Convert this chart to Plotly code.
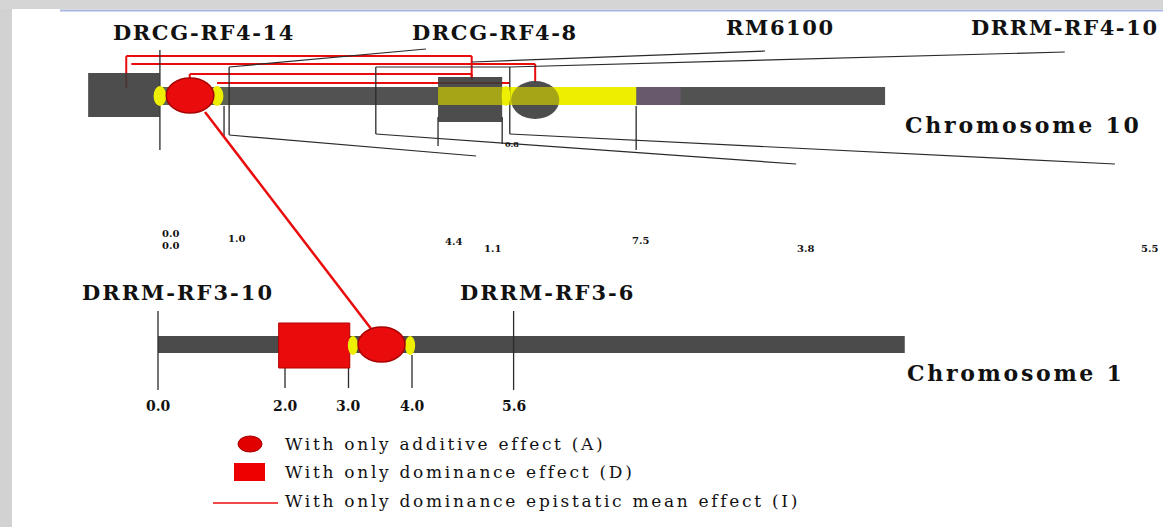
import plotly.graph_objects as go

W, H = 1163, 527
PX_PER_CM = 63.5      # horizontal map scale
ORIGIN_PX = 158       # horizontal pixel of 0 cM

# ---------------- map data (positions in cM) ----------------
# Chromosome 1
chr1_end = 11.76
chr1_marker_names = ["DRRM-RF3-10", "DRRM-RF3-6"]
chr1_marker_pos = [0.0, 5.6]
chr1_label_pos = [0.31, 6.14]
chr1_tick_pos = [0.0, 2.0, 3.0, 4.0, 5.6]
chr1_tick_labels = ["0.0", "2.0", "3.0", "4.0", "5.6"]
chr1_dom_qtl = [(2.0, 3.0)]
chr1_add_qtl = [(3.07, 3.97)]

# Chromosome 10
chr10_end = 11.45
chr10_marker_names = ["DRCG-RF4-14", "DRCG-RF4-8", "RM6100", "DRRM-RF4-10"]
chr10_label_pos = [0.72, 5.31, 9.80, 14.28]
chr10_tick_pos = [0.03, 1.04, 1.12, 3.43, 4.41, 5.42, 5.54, 7.53]
chr10_tick_labels = ["0.0", "0.0", "1.0", "4.4", "1.1", "7.5", "3.8", "5.5", "0.8"]
chr10_tick_label_pos = [0.19, 0.19, 1.23, 4.65, 5.26, 7.6, 10.2, 15.62, 5.58]
chr10_dom_qtl = [(-1.1, 0.03), (4.41, 5.42)]
chr10_add_qtl = [(0.03, 0.93), (5.48, 6.32)]
chr10_interval = (4.41, 7.53)
# dominance-by-dominance epistatic pairs on chromosome 10 (cM, cM)
chr10_epistasis = [(-0.5, 4.94), (-0.42, 5.94), (0.5, 4.94), (0.93, 5.54)]
# epistatic pair linking chromosome 10 and chromosome 1 (cM on chr10, cM on chr1)
interchrom_link = (0.74, 3.37)

# ---------------- drawing layout (rows in px from top) ----------------
C10_BAR = (87, 105)
C1_BAR = (336, 353)
# vertical extents of each chr10 tick line
chr10_tick_rows = [(50, 150), (106, 136), (67, 135), (67, 134), (117, 146), (117, 144), (67, 134), (106, 150)]
chr10_tick_label_rows = [233, 245, 238, 241, 248, 240, 248, 248, 144]
epi_rows = [56, 64, 74, 83]
epi_drop = [(88, 80), (64, 82), (80, 80), (83, 83)]
# leader segments of the chr10 map: (cM, row) -> (cM, row)
chr10_leaders = [
    ((1.12, 67), (4.22, 49)),
    ((3.43, 67), (5.54, 67)),
    ((4.94, 62), (9.56, 51)),
    ((5.54, 67), (14.28, 52)),
    ((1.12, 135), (5.01, 156)),
    ((3.43, 134), (10.05, 164)),
    ((5.54, 134), (15.07, 164)),
]

RED = "#ea0c0c"
DARK = "#3a3a3a"
BAR = "#525252"
YELLOW = "#eeee00"
SERIF = "DejaVu Serif"

shapes = []


def rect(x0, x1, y0, y1, fill, opacity=1.0, line_color=None, lw=0, xref="x", yref="y"):
    shapes.append(dict(type="rect", xref=xref, yref=yref, x0=x0, x1=x1, y0=y0, y1=y1,
                       fillcolor=fill, opacity=opacity,
                       line=dict(color=line_color or fill, width=lw)))


def ellipse(x0, x1, y0, y1, fill, opacity=1.0, line_color=None, lw=0, xref="x", yref="y"):
    shapes.append(dict(type="circle", xref=xref, yref=yref, x0=x0, x1=x1, y0=y0, y1=y1,
                       fillcolor=fill, opacity=opacity,
                       line=dict(color=line_color or fill, width=lw)))


def seg(x0, y0, x1, y1, color="#222222", width=1.2, xref="x", yref="y"):
    shapes.append(dict(type="line", xref=xref, yref=yref, x0=x0, y0=y0, x1=x1, y1=y1,
                       line=dict(color=color, width=width)))


def px(v):
    return v / W


# page frame: textured border strip and thin rule
rect(0, px(12), 0, 1, "#d2d2d2", xref="paper", yref="paper")
rect(0, 1, 1 - 9 / H, 1, "#d5d5d5", xref="paper", yref="paper")
seg(px(60), 1 - 10.5 / H, 1, 1 - 10.5 / H, "#aab3da", 2, xref="paper", yref="paper")

# ---------------- chromosome 10 ----------------
cap_w = 0.1
rect(chr10_add_qtl[0][0], chr10_end, *C10_BAR, BAR)
rect(chr10_add_qtl[0][0], chr10_tick_pos[2], *C10_BAR, "#5c6452")
rect(chr10_interval[1], chr10_interval[1] + 0.7, *C10_BAR, "#685a6c")
rect(chr10_interval[0], chr10_interval[1], *C10_BAR, YELLOW)

# epistatic connections (drawn beneath the QTL boxes)
for (a, b), row, (da, db) in zip(chr10_epistasis, epi_rows, epi_drop):
    seg(a, da, a, row, RED, 2)
    seg(a, row, b, row, RED, 2)
    seg(b, row, b, db, RED, 2)

# map leaders and marker ticks
for (p0, p1) in chr10_leaders:
    seg(p0[0], p0[1], p1[0], p1[1], "#2a2a2a", 1.2)
for t, (r0, r1) in zip(chr10_tick_pos, chr10_tick_rows):
    seg(t, r0, t, r1, "#2a2a2a", 1.3)

# dominance QTL boxes and the dark additive QTL
rect(chr10_dom_qtl[0][0], chr10_dom_qtl[0][1], 73, 117, DARK, opacity=0.9)
rect(chr10_dom_qtl[1][0], chr10_dom_qtl[1][1], 77, 122, DARK, opacity=0.9)
ellipse(chr10_add_qtl[1][0] + 0.08, chr10_add_qtl[1][1], 81, 119, DARK, opacity=0.9)
# support interval shows through the dark QTL marks
rect(chr10_interval[0], chr10_interval[1], *C10_BAR, YELLOW, opacity=0.55)

# inter-chromosome epistasis line
seg(interchrom_link[0], 112, interchrom_link[1], 330, RED, 2.5)

# red additive QTL with its flanking caps
lo, hi = chr10_add_qtl[0]
ellipse(lo - cap_w, lo + cap_w, 86, 106, YELLOW)
ellipse(hi - cap_w, hi + cap_w, 86, 106, YELLOW)
ellipse(lo + 0.1, hi - 0.05, 78, 113, RED, line_color="#a80000", lw=1.5)
ellipse(chr10_add_qtl[1][0] - 0.07, chr10_add_qtl[1][0] + 0.07, 86, 106, YELLOW)

# ---------------- chromosome 1 ----------------
rect(chr1_tick_pos[0], chr1_end, *C1_BAR, "#4b4b4b")
for t in chr1_tick_pos:
    if t in chr1_marker_pos:
        seg(t, 311, t, 390, "#2a2a2a", 1.3)
    else:
        seg(t, 355, t, 388, "#2a2a2a", 1.3)
for lo, hi in chr1_dom_qtl:
    rect(lo - 0.1, hi + 0.02, 323, 368, RED, line_color="#b00000", lw=1)
for lo, hi in chr1_add_qtl:
    ellipse(lo - cap_w * 0.8, lo + cap_w * 0.8, 336, 355, YELLOW)
    ellipse(hi - cap_w * 0.8, hi + cap_w * 0.8, 336, 355, YELLOW)
    ellipse(lo + 0.08, hi - 0.08, 327, 362, RED, line_color="#a80000", lw=1.5)

# ---------------- legend ----------------
ellipse(px(238), px(262), 1 - 452 / H, 1 - 436 / H, "#e00000", line_color="#a00000", lw=1,
        xref="paper", yref="paper")
rect(px(234), px(265), 1 - 481 / H, 1 - 463 / H, "#ee0000", xref="paper", yref="paper")
seg(px(213), 1 - 503 / H, px(278), 1 - 503 / H, RED, 1.5, xref="paper", yref="paper")

annotations = []


def label(x, y, text, size, bold=False, anchor="center", spacing=0, xref="x", yref="y"):
    if spacing:
        text = f'<span style="letter-spacing:{spacing}px">{text}</span>'
    annotations.append(dict(x=x, y=y, xref=xref, yref=yref, text=text, showarrow=False,
                            xanchor=anchor, yanchor="middle",
                            font=dict(family=SERIF, size=size, color="#111111",
                                      weight="bold" if bold else "normal")))


for name, pos in zip(chr10_marker_names, chr10_label_pos):
    label(pos, 32 if name.startswith("DRCG") else 27, name, 21, bold=True, spacing=1.6)
for name, pos in zip(chr1_marker_names, chr1_label_pos):
    label(pos, 292, name, 21, bold=True, spacing=2.0)
for txt, pos, row in zip(chr10_tick_labels, chr10_tick_label_pos, chr10_tick_label_rows):
    label(pos, row, txt, 10 if row > 200 else 8, bold=True)
for txt, pos in zip(chr1_tick_labels, chr1_tick_pos):
    label(pos, 406, txt, 14, bold=True)

label(px(903), 1 - 125 / H, "Chromosome 10", 22, bold=True, anchor="left", spacing=2.8,
      xref="paper", yref="paper")
label(px(905), 1 - 373 / H, "Chromosome 1", 22, bold=True, anchor="left", spacing=2.7,
      xref="paper", yref="paper")

legend_items = ["With only additive effect (A)",
                "With only dominance effect (D)",
                "With only dominance epistatic mean effect (I)"]
for txt, row in zip(legend_items, [444, 472, 501]):
    label(px(283), 1 - row / H, txt, 17, anchor="left", spacing=2.7, xref="paper", yref="paper")

fig = go.Figure()
fig.update_layout(
    width=W, height=H,
    margin=dict(l=0, r=0, t=0, b=0),
    paper_bgcolor="white", plot_bgcolor="white",
    showlegend=False,
    xaxis=dict(range=[-ORIGIN_PX / PX_PER_CM, (W - ORIGIN_PX) / PX_PER_CM],
               visible=False, fixedrange=True),
    yaxis=dict(range=[H, 0], visible=False, fixedrange=True),
    shapes=shapes,
    annotations=annotations,
)
fig.write_html("out.html", config={"displayModeBar": False})
